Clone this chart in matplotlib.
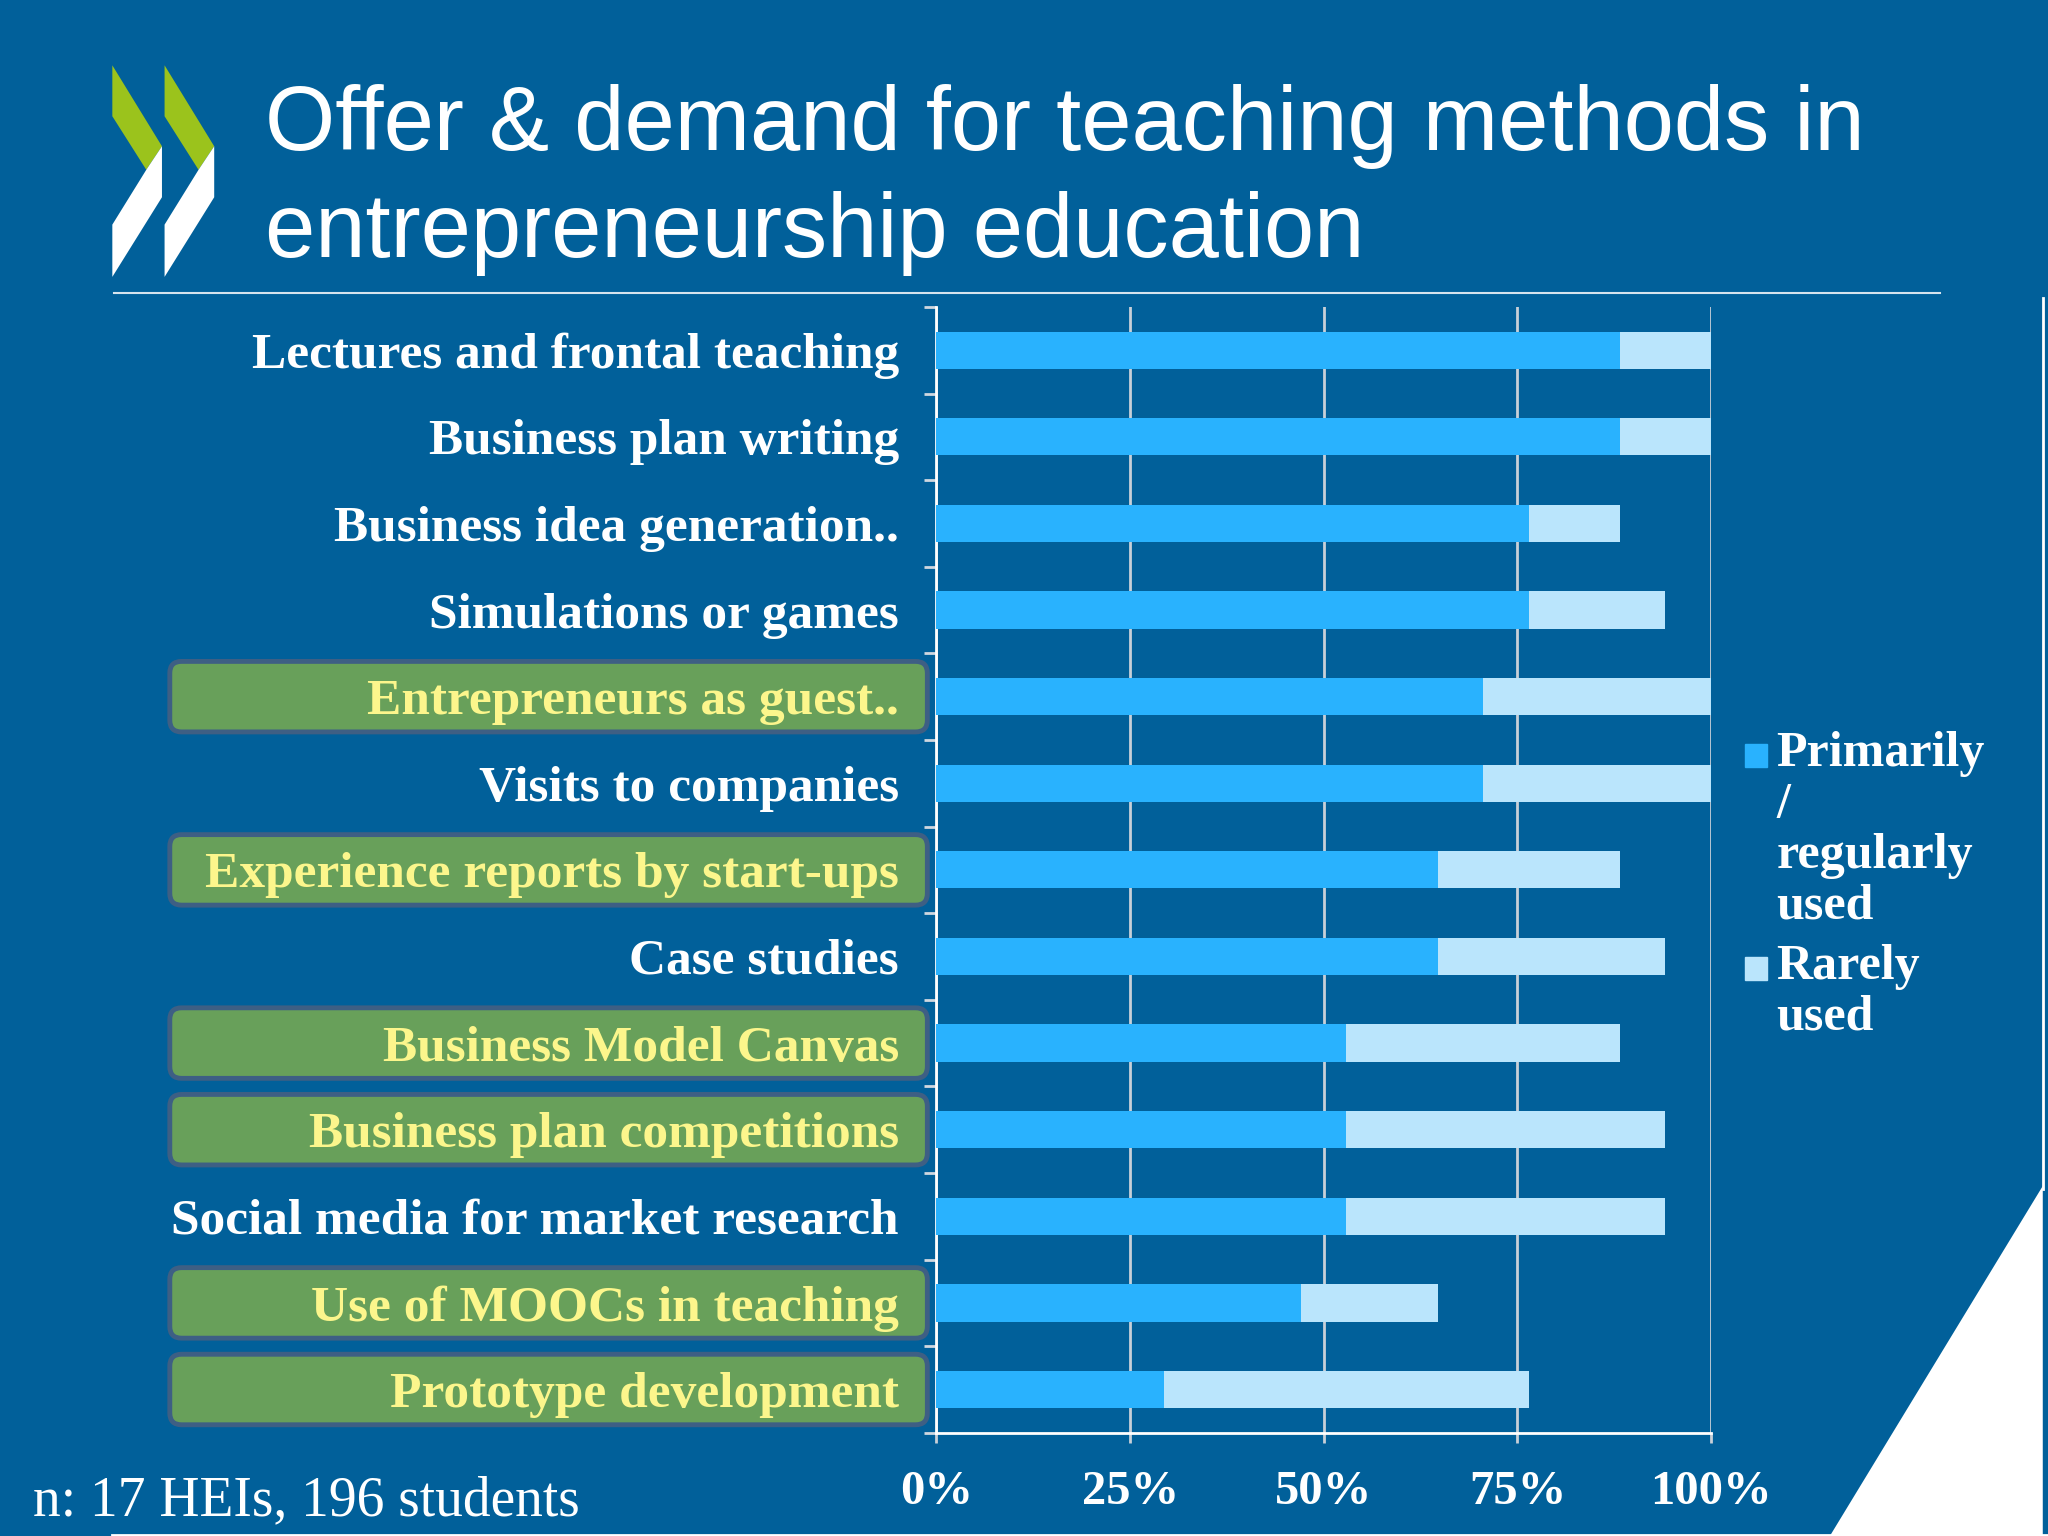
import matplotlib
matplotlib.use('Agg')
import matplotlib.pyplot as plt
from matplotlib.patches import Polygon, FancyBboxPatch, Rectangle
import numpy as np

# data (share of 17 HEIs, in %)
categories = ['Lectures and frontal teaching', 'Business plan writing',
              'Business idea generation..', 'Simulations or games',
              'Entrepreneurs as guest..', 'Visits to companies',
              'Experience reports by start-ups', 'Case studies',
              'Business Model Canvas', 'Business plan competitions',
              'Social media for market research', 'Use of MOOCs in teaching',
              'Prototype development']
primary = [88.2, 88.2, 76.5, 76.5, 70.6, 70.6, 64.7, 64.7, 52.9, 52.9, 52.9, 47.1, 29.4]
rarely = [11.8, 11.8, 11.8, 17.6, 29.4, 29.4, 23.5, 29.4, 35.3, 41.2, 41.2, 17.6, 47.1]
highlighted = [4, 6, 8, 9, 11, 12]
xticks = [0, 25, 50, 75, 100]
xtick_labels = ['0%', '25%', '50%', '75%', '100%']
series_names = ['Primarily\n/\nregularly\nused', 'Rarely\nused']
title_lines = ['Offer & demand for teaching methods in', 'entrepreneurship education']
note = 'n: 17 HEIs, 196 students'

BG = '#01609A'
C1 = '#29B2FE'
C2 = '#BAE5FC'
GREEN = '#68A05A'
BORDER = '#3E5F84'
YELLOW = '#FCF68C'
LIME = '#9BC31C'
GRID = '#C8D0D8'

plt.rcParams['font.family'] = ['Liberation Serif', 'DejaVu Serif']

W, H = 1568, 1176  # layout grid

fig = plt.figure(figsize=(20.48, 15.36), dpi=100, facecolor=BG)
bg = fig.add_axes([0, 0, 1, 1], zorder=0)
bg.set_xlim(0, W)
bg.set_ylim(H, 0)
bg.axis('off')

ax = fig.add_axes([717 / W, 1 - 1097 / H, (1310 - 717) / W, (1097 - 235) / H], zorder=1)
ax.patch.set_alpha(0)

y = np.arange(len(categories))
ax.barh(y, primary, height=0.43, color=C1, zorder=3)
ax.barh(y, rarely, left=primary, height=0.43, color=C2, zorder=3)
ax.set_xlim(0, 100)
ax.set_ylim(len(categories) - 0.5, -0.5)

ax.grid(axis='x', color=GRID, lw=2)
ax.set_axisbelow(True)
for s in ['top', 'right']:
    ax.spines[s].set_visible(False)
for s in ['left', 'bottom']:
    ax.spines[s].set_color('white')
    ax.spines[s].set_linewidth(2)

ax.set_yticks(y, categories)
ax.set_yticks(np.arange(-0.5, len(categories) + 0.5, 1), minor=True)
ax.tick_params(axis='y', which='major', length=0, pad=27, labelsize=37)
ax.tick_params(axis='y', which='minor', length=9, width=2, color='#D0D8E0', direction='out')
for i, lbl in enumerate(ax.get_yticklabels()):
    lbl.set_fontweight('bold')
    lbl.set_color(YELLOW if i in highlighted else 'white')

ax.set_xticks(xticks, xtick_labels)
ax.tick_params(axis='x', length=7, width=2, color=GRID, pad=20, labelsize=35, labelcolor='white')
for lbl in ax.get_xticklabels():
    lbl.set_fontweight('bold')

# green boxes behind highlighted labels
inv = fig.transFigure.inverted()
for i in highlighted:
    yc = (1 - inv.transform(ax.transData.transform((0, i)))[1]) * H
    bg.add_patch(FancyBboxPatch((130, yc - 27), 580, 54,
                                boxstyle='round,pad=0,rounding_size=9',
                                fc=GREEN, ec=BORDER, lw=3.5))

# legend
bg.add_patch(Rectangle((1336, 570), 17, 17, color=C1))
bg.text(1360, 560, series_names[0], color='white', fontsize=36, fontweight='bold',
        va='top', ha='left', linespacing=1.13)
bg.add_patch(Rectangle((1336, 733), 17, 17, color=C2))
bg.text(1360, 723, series_names[1], color='white', fontsize=36, fontweight='bold',
        va='top', ha='left', linespacing=1.13)

# title and header
for txt, yb in zip(title_lines, [115, 197]):
    bg.text(203, yb, txt, color='white', fontsize=65, va='baseline',
            family=['Liberation Sans', 'DejaVu Sans'])
bg.plot([87, 1485], [224, 224], color='#D6E4EE', lw=1.5)

# logo chevrons
green_pts = [(86, 50), (124, 112), (112, 130), (86, 89)]
white_pts = [(124, 112), (124, 151), (86, 212), (86, 172), (112, 130)]
for dx in [0, 40]:
    bg.add_patch(Polygon([(px + dx, py) for px, py in green_pts], fc=LIME, ec='none'))
    bg.add_patch(Polygon([(px + dx, py) for px, py in white_pts], fc='white', ec='none'))

# footnote
bg.text(25, 1160, note, color='white', fontsize=40, va='baseline')

# slide frame bits
bg.plot([1564, 1564], [228, 910], color='white', lw=2)
bg.plot([86, W], [1175, 1175], color='white', lw=2)
bg.add_patch(Polygon([(1401, 1176), (1564, 908), (1564, 1176)], fc='white', ec='none'))

fig.savefig('out.png', dpi=100, facecolor=BG)
